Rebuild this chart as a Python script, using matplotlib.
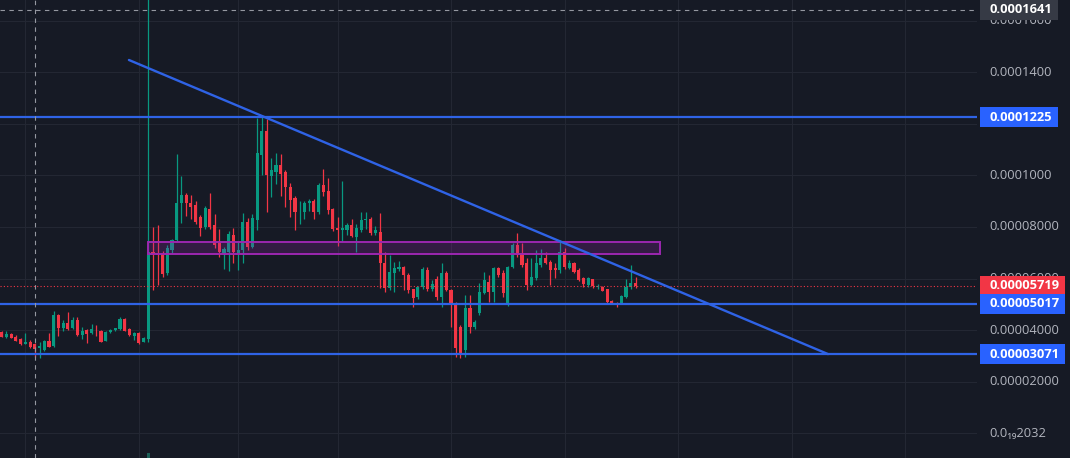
import matplotlib
matplotlib.use("Agg")
import matplotlib.pyplot as plt
import matplotlib.transforms as mtransforms
from matplotlib.patches import Rectangle

plt.rcParams['font.family'] = ['Open Sans', 'DejaVu Sans']

UNIT = 1e-5  # all prices below are in units of 0.00001

opens = [3.94, 3.72, 3.85, 3.75, 3.64, 3.47, 3.55, 3.45, 3.29, 3.23,
         3.58, 3.38, 4.59, 4.07, 4.26, 4.09, 4.39, 3.81, 4.00, 3.88,
         4.01, 3.97, 3.59, 3.91, 4.00, 4.03, 4.42, 4.04, 3.77, 3.90,
         3.55, 3.64, 7.04, 7.00, 6.95, 6.20, 7.10, 7.49, 8.92, 9.24,
         8.92, 8.85, 8.37, 7.98, 8.69, 8.07, 7.36, 7.00, 7.04, 7.69,
         7.00, 7.10, 8.20, 7.23, 8.27, 10.79, 11.73, 9.97, 10.14, 10.40,
         10.14, 9.56, 9.11, 8.60, 8.59, 8.92, 9.02, 8.59, 9.62, 9.40,
         8.68, 7.95, 7.88, 7.88, 8.07, 7.62, 7.88, 8.25, 8.29, 7.75,
         7.81, 6.59, 5.62, 6.20, 6.36, 6.46, 6.14, 5.58, 5.27, 5.66,
         6.33, 5.58, 5.97, 5.29, 6.20, 5.55, 5.00, 4.13, 3.23, 4.85,
         4.13, 4.65, 5.43, 5.88, 5.49, 6.40, 6.20, 4.97, 6.46, 7.30,
         6.98, 6.59, 5.75, 6.01, 6.52, 6.78, 6.65, 6.40, 6.33, 7.04,
         6.40, 6.59, 6.33, 6.01, 5.75, 5.97, 5.68, 5.68, 5.58, 5.12,
         5.06, 5.06, 5.29, 5.66, 5.81]
highs = [3.98, 3.98, 3.88, 3.80, 3.68, 3.90, 3.60, 3.50, 3.55, 3.62,
         3.90, 4.74, 4.62, 4.40, 4.69, 4.50, 4.50, 4.13, 4.05, 4.23,
         4.19, 4.00, 3.97, 4.05, 4.10, 4.50, 4.45, 4.08, 3.92, 3.94,
         3.72, 18.0, 8.00, 8.07, 7.05, 7.30, 7.55, 10.81, 9.97, 9.30,
         9.25, 9.00, 8.45, 8.80, 9.33, 8.50, 7.90, 7.23, 7.85, 7.95,
         7.40, 8.55, 8.35, 8.50, 12.21, 12.25, 12.20, 10.66, 10.88, 10.81,
         10.20, 9.70, 9.20, 9.00, 9.00, 9.10, 9.10, 9.70, 10.23, 9.88,
         8.75, 8.40, 9.79, 8.15, 8.30, 8.10, 8.59, 8.56, 8.40, 8.05,
         8.55, 7.04, 6.93, 6.65, 6.68, 6.50, 6.20, 5.60, 5.72, 6.45,
         6.45, 5.95, 6.10, 6.61, 6.30, 5.60, 5.10, 4.20, 5.36, 5.36,
         4.40, 5.81, 6.26, 6.14, 6.46, 6.46, 6.33, 6.50, 7.39, 7.78,
         7.36, 6.78, 6.78, 7.10, 7.13, 7.04, 6.70, 6.59, 7.49, 7.17,
         6.70, 6.65, 6.40, 6.05, 6.05, 6.00, 5.80, 5.72, 5.60, 5.15,
         5.08, 5.35, 5.97, 6.52, 6.07]
lows = [3.72, 3.68, 3.68, 3.57, 3.43, 3.45, 3.30, 2.95, 2.93, 3.20,
        3.33, 3.35, 3.77, 3.95, 4.00, 4.05, 3.78, 3.64, 3.51, 3.85,
        3.78, 3.52, 3.56, 3.88, 3.97, 4.00, 3.95, 3.78, 3.60, 3.45,
        3.52, 3.55, 5.55, 5.75, 6.07, 6.15, 7.00, 7.45, 8.15, 8.42,
        8.30, 8.10, 7.65, 7.90, 7.90, 7.20, 6.85, 6.36, 6.30, 6.60,
        6.33, 6.61, 7.10, 7.20, 7.88, 10.01, 8.59, 9.15, 9.66, 9.20,
        8.78, 8.40, 7.88, 8.10, 8.30, 8.60, 8.30, 8.50, 9.20, 8.50,
        7.85, 7.26, 7.43, 7.70, 7.60, 7.04, 7.80, 7.90, 7.70, 7.70,
        5.62, 5.47, 5.55, 5.49, 6.30, 5.55, 5.45, 4.88, 5.20, 5.60,
        5.50, 5.50, 5.15, 4.91, 5.50, 4.13, 2.95, 2.91, 2.95, 3.88,
        4.05, 4.60, 5.40, 5.10, 5.10, 6.05, 5.29, 4.93, 6.40, 6.85,
        6.45, 5.55, 5.70, 5.95, 6.45, 6.55, 5.75, 6.01, 6.20, 6.35,
        6.35, 6.20, 5.90, 5.68, 5.68, 5.62, 5.60, 5.50, 5.05, 5.00,
        4.91, 5.00, 5.25, 5.60, 5.65]
closes = [3.75, 3.85, 3.71, 3.59, 3.46, 3.53, 3.33, 3.26, 3.38, 3.59,
          3.36, 4.59, 4.09, 4.29, 4.04, 4.38, 3.81, 3.98, 3.85, 4.04,
          3.99, 3.55, 3.94, 4.00, 4.07, 4.42, 3.98, 3.81, 3.88, 3.51,
          3.68, 7.04, 6.95, 6.90, 6.17, 7.17, 7.49, 8.92, 9.24, 8.92,
          8.78, 8.20, 7.95, 8.72, 8.01, 7.30, 7.04, 7.13, 7.72, 7.04,
          7.10, 8.20, 7.23, 8.33, 10.85, 11.73, 10.01, 10.20, 10.40, 10.05,
          9.53, 9.04, 8.59, 8.62, 8.92, 9.02, 8.59, 9.62, 9.36, 8.66,
          7.91, 7.88, 7.95, 8.07, 7.65, 7.95, 8.27, 8.30, 7.78, 7.88,
          6.59, 5.62, 6.26, 6.40, 6.44, 6.14, 5.55, 5.23, 5.68, 6.36,
          5.58, 5.79, 5.29, 6.20, 5.55, 5.04, 3.30, 3.03, 4.85, 4.13,
          4.33, 5.49, 5.94, 5.49, 6.40, 6.14, 5.43, 6.46, 7.30, 6.91,
          6.52, 5.75, 6.07, 6.59, 6.78, 6.61, 6.33, 6.33, 7.04, 6.46,
          6.61, 6.26, 5.94, 5.79, 6.01, 5.71, 5.72, 5.53, 5.10, 5.04,
          5.00, 5.32, 5.68, 5.81, 5.719]

levels = [12.25, 5.017, 3.071]            # horizontal support / resistance lines
level_labels = ['0.0001225', '0.00005017', '0.00003071']
last_price = 5.719
last_label = '0.00005719'
crosshair_price = 16.41
crosshair_label = '0.0001641'
crosshair_index = 7
trend_x = [26.9, 174.7]
trend_y = [14.47, 3.071]
zone_x = [30.9, 139.2]
zone_y = [6.95, 7.43]
time_grid = [5, 29, 50, 71, 95, 119, 143, 167, 191]
price_ticks = [0, 2, 4, 6, 8, 10, 12, 14, 16]
price_tick_labels = ['0.0\u2081\u20892032', '0.00002000', '0.00004000', '0.00006000',
                     '0.00008000', '0.0001000', '0.0001200', '0.0001400', '0.0001600']
spike_index = 31

# ---------------- style ----------------
BG = '#161a25'
GRID = '#232733'
UP = '#089981'
DOWN = '#f23645'
BLUE = '#2962ff'
LINEBLUE = '#2f63e6'
PURPLE = '#9c27b0'
TXT = '#b2b5be'

W, H = 1070, 458
fig = plt.figure(figsize=(W / 100, H / 100), dpi=100, facecolor=BG)
plot_w = 977
ax = fig.add_axes([0, 0, plot_w / W, 1])
ax.set_facecolor(BG)
for s in ax.spines.values():
    s.set_visible(False)
ax.set_xticks([])
ax.set_yticks([])

YLIM = (-0.957 * UNIT, 16.795 * UNIT)
ax.set_xlim(-0.36, 206.2)
ax.set_ylim(*YLIM)

for p in price_ticks:
    ax.axhline(p * UNIT, color=GRID, lw=0.8, zorder=0)
for t in time_grid:
    ax.axvline(t, color=GRID, lw=0.8, zorder=0)

# candles
n = len(opens)
xs = list(range(n))
o = [v * UNIT for v in opens]
h = [v * UNIT for v in highs]
l = [v * UNIT for v in lows]
c = [v * UNIT for v in closes]
cols = [UP if cc >= oo else DOWN for oo, cc in zip(o, c)]
ax.vlines(xs, l, h, colors=cols, lw=0.9, zorder=3)
bottoms = [min(oo, cc) for oo, cc in zip(o, c)]
heights = [max(abs(cc - oo), 0.03 * UNIT) for oo, cc in zip(o, c)]
ax.bar(xs, heights, bottom=bottoms, width=0.66, color=cols, edgecolor='none', zorder=4)

# tiny volume bar below the spike
blend = mtransforms.blended_transform_factory(ax.transData, ax.transAxes)
ax.add_patch(Rectangle((spike_index - 0.35, 0), 0.7, 0.012, transform=blend,
                       facecolor='#1c5f57', edgecolor='none', zorder=2))

# zone
ax.add_patch(Rectangle((zone_x[0], zone_y[0] * UNIT), zone_x[1] - zone_x[0],
                       (zone_y[1] - zone_y[0]) * UNIT,
                       facecolor=(0.61, 0.15, 0.69, 0.22), edgecolor=PURPLE, lw=1.4, zorder=5))

# horizontal levels
for lv in levels:
    ax.axhline(lv * UNIT, color=LINEBLUE, lw=1.6, zorder=6)
ax.axhline(last_price * UNIT, color=DOWN, lw=0.8, ls=(0, (1, 2)), zorder=6)

# trend line
ax.plot(trend_x, [v * UNIT for v in trend_y], color=LINEBLUE, lw=1.7,
        solid_capstyle='round', zorder=6)

# crosshair
ax.axhline(crosshair_price * UNIT, color='#9598a1', lw=0.8, ls=(0, (4, 4)), zorder=7)
ax.axvline(crosshair_index, color='#9598a1', lw=0.8, ls=(0, (4, 4)), zorder=7)

# ---------------- price scale ----------------
ax2 = fig.add_axes([plot_w / W, 0, (W - plot_w) / W, 1])
ax2.set_facecolor(BG)
ax2.set_xlim(0, 1)
ax2.set_ylim(*YLIM)
ax2.axis('off')

tx = 12 / (W - plot_w)
FS = 9.3
for p, lab in zip(price_ticks, price_tick_labels):
    ax2.text(tx, p * UNIT, lab, color=TXT, fontsize=FS, va='center', ha='left', zorder=2)

boxes = [(crosshair_price, crosshair_label, '#363a45'),
         (levels[0], level_labels[0], BLUE),
         (last_price, last_label, DOWN),
         (levels[1], level_labels[1], BLUE),
         (levels[2], level_labels[2], BLUE)]
texts = []
for p, lab, fc in boxes:
    t = ax2.text(tx, p * UNIT, lab, color='white', fontsize=FS, fontweight='bold',
                 va='center', ha='left', zorder=10)
    texts.append((t, p, fc))

fig.canvas.draw()
r = fig.canvas.get_renderer()
ax2_bb = ax2.get_window_extent(r)
px = (YLIM[1] - YLIM[0]) / H
for t, p, fc in texts:
    bb = t.get_window_extent(r)
    right = (bb.x1 + 6 - ax2_bb.x0) / ax2_bb.width
    left = 3 / (W - plot_w)
    ax2.add_patch(Rectangle((left, p * UNIT - 10 * px), right - left, 20 * px,
                            facecolor=fc, edgecolor='none', zorder=9))

fig.savefig('out.png', dpi=100, facecolor=BG)
